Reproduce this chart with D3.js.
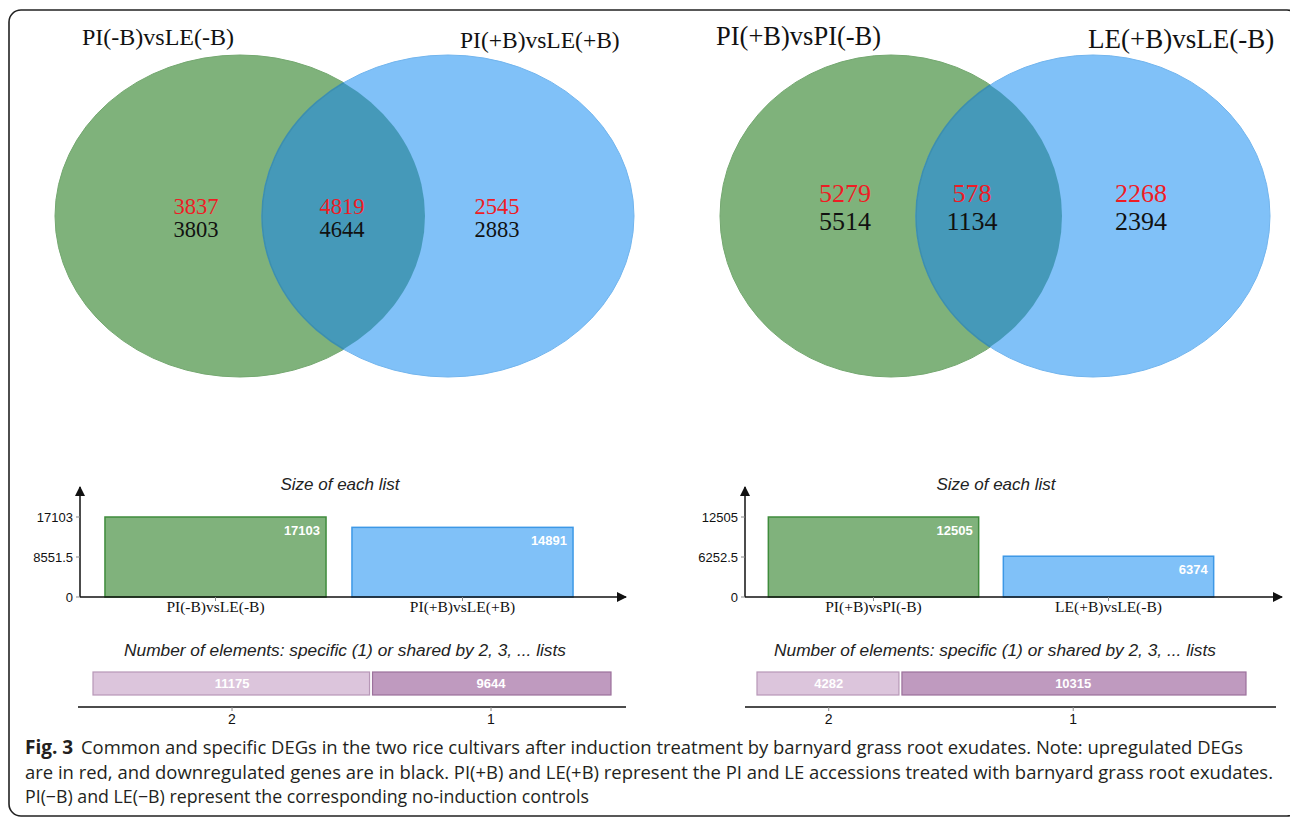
<!DOCTYPE html>
<html>
<head>
<meta charset="utf-8">
<script src="https://cdn.jsdelivr.net/npm/d3@7"></script>
<style>
  html, body { margin: 0; padding: 0; background: #fff; }
  svg { display: block; }
</style>
</head>
<body>
<div id="chart"></div>
<script>
/* =========================
   DATA
========================= */
const leftSets = ["PI(-B)vsLE(-B)", "PI(+B)vsLE(+B)"];
const leftUp = [3837, 4819, 2545];
const leftDown = [3803, 4644, 2883];

const rightSets = ["PI(+B)vsPI(-B)", "LE(+B)vsLE(-B)"];
const rightUp = [5279, 578, 2268];
const rightDown = [5514, 1134, 2394];

const leftListSizes = [17103, 14891];
const rightListSizes = [12505, 6374];

const sharedLabels = ["2", "1"];
const leftShared = [11175, 9644];
const rightShared = [4282, 10315];

const captionLines = [
  "Common and specific DEGs in the two rice cultivars after induction treatment by barnyard grass root exudates. Note: upregulated DEGs",
  "are in red, and downregulated genes are in black. PI(+B) and LE(+B) represent the PI and LE accessions treated with barnyard grass root exudates.",
  "PI(\u2212B) and LE(\u2212B) represent the corresponding no-induction controls"
];

/* =========================
   SVG
========================= */
const width = 1290, height = 818;
const svg = d3.select("#chart").append("svg")
  .attr("width", width)
  .attr("height", height);

const serif = "'Liberation Serif', 'Times New Roman', serif";
const sans = "'Liberation Sans', Arial, sans-serif";

svg.append("rect")
  .attr("x", 9).attr("y", 10)
  .attr("width", 1290).attr("height", 806)
  .attr("rx", 12)
  .attr("fill", "#fff")
  .attr("stroke", "#222")
  .attr("stroke-width", 1.6);

const defs = svg.append("defs");
defs.append("marker")
  .attr("id", "arrow")
  .attr("viewBox", "0 0 10 10")
  .attr("refX", 9).attr("refY", 5)
  .attr("markerWidth", 10).attr("markerHeight", 10)
  .attr("markerUnits", "userSpaceOnUse")
  .attr("orient", "auto")
  .append("path")
  .attr("d", "M0,0L10,5L0,10Z")
  .attr("fill", "#111");

/* =========================
   VENN
========================= */
function drawVenn(cfg) {
  const g = svg.append("g");
  const [a, b] = cfg.ellipses;

  defs.append("clipPath").attr("id", cfg.id)
    .append("ellipse")
    .attr("cx", a.cx).attr("cy", a.cy).attr("rx", a.rx).attr("ry", a.ry);

  g.append("ellipse")
    .attr("cx", a.cx).attr("cy", a.cy).attr("rx", a.rx).attr("ry", a.ry)
    .attr("fill", "#7fb27b").attr("stroke", "#74a870").attr("stroke-width", 1);
  g.append("ellipse")
    .attr("cx", b.cx).attr("cy", b.cy).attr("rx", b.rx).attr("ry", b.ry)
    .attr("fill", "#80c1f8").attr("stroke", "#72b5ee").attr("stroke-width", 1);
  g.append("ellipse")
    .attr("clip-path", `url(#${cfg.id})`)
    .attr("cx", b.cx).attr("cy", b.cy).attr("rx", b.rx).attr("ry", b.ry)
    .attr("fill", "#4599b9").attr("stroke", "#3d8fae").attr("stroke-width", 1.5);

  g.selectAll(".set-label")
    .data(cfg.sets)
    .enter().append("text")
    .attr("x", (d, i) => cfg.labelX[i])
    .attr("y", (d, i) => cfg.labelY[i])
    .attr("font-family", serif)
    .attr("font-size", (d, i) => cfg.labelSize[i])
    .attr("fill", "#111")
    .text(d => d);

  g.selectAll(".up")
    .data(cfg.up)
    .enter().append("text")
    .attr("x", (d, i) => cfg.numX[i])
    .attr("y", cfg.upY)
    .attr("text-anchor", "middle")
    .attr("font-family", serif)
    .attr("font-size", cfg.numSize)
    .attr("fill", "#ee1c25")
    .text(d => d);

  g.selectAll(".down")
    .data(cfg.down)
    .enter().append("text")
    .attr("x", (d, i) => cfg.numX[i])
    .attr("y", cfg.downY)
    .attr("text-anchor", "middle")
    .attr("font-family", serif)
    .attr("font-size", cfg.numSize)
    .attr("fill", "#111")
    .text(d => d);
}

drawVenn({
  id: "clipLeft",
  ellipses: [{ cx: 240, cy: 216, rx: 185, ry: 161 }, { cx: 448, cy: 216, rx: 186, ry: 161 }],
  sets: leftSets,
  labelX: [82, 460], labelY: [45, 48], labelSize: [24, 23.5],
  up: leftUp, down: leftDown,
  numX: [196, 342, 497], upY: 214, downY: 237, numSize: 22.5
});

drawVenn({
  id: "clipRight",
  ellipses: [{ cx: 891, cy: 216, rx: 171, ry: 161 }, { cx: 1093, cy: 216, rx: 177, ry: 161 }],
  sets: rightSets,
  labelX: [716, 1088], labelY: [45, 48], labelSize: [26.5, 27],
  up: rightUp, down: rightDown,
  numX: [845, 972, 1141], upY: 202, downY: 230, numSize: 26
});

/* =========================
   SIZE OF EACH LIST
========================= */
function drawSizes(cfg) {
  const g = svg.append("g");
  const max = d3.max(cfg.values);

  const x = d3.scaleBand()
    .domain(cfg.sets)
    .range(cfg.xRange)
    .paddingInner(0.105)
    .paddingOuter(0.0525);

  const y = d3.scaleLinear()
    .domain([0, max])
    .range([597, 517]);

  g.append("text")
    .attr("x", cfg.titleX).attr("y", 490)
    .attr("text-anchor", "middle")
    .attr("font-family", sans).attr("font-size", 17)
    .attr("font-style", "italic").attr("fill", "#222")
    .text("Size of each list");

  g.selectAll(".bar")
    .data(cfg.values)
    .enter().append("rect")
    .attr("x", (d, i) => x(cfg.sets[i]))
    .attr("y", d => y(d))
    .attr("width", x.bandwidth())
    .attr("height", d => y(0) - y(d))
    .attr("fill", (d, i) => i === 0 ? "#80b27c" : "#80c1f8")
    .attr("stroke", (d, i) => i === 0 ? "#3f8c3c" : "#3d98e6")
    .attr("stroke-width", 1.5);

  g.selectAll(".val")
    .data(cfg.values)
    .enter().append("text")
    .attr("x", (d, i) => x(cfg.sets[i]) + x.bandwidth() - 6)
    .attr("y", d => y(d) + 18)
    .attr("text-anchor", "end")
    .attr("font-family", sans).attr("font-size", 13)
    .attr("font-weight", "bold").attr("fill", "#fff")
    .text(d => d);

  // axes
  g.append("line")
    .attr("x1", cfg.axisX).attr("y1", 597)
    .attr("x2", cfg.axisX).attr("y2", 487)
    .attr("stroke", "#111").attr("stroke-width", 1.5)
    .attr("marker-end", "url(#arrow)");
  g.append("line")
    .attr("x1", cfg.axisX).attr("y1", 597)
    .attr("x2", cfg.arrowX).attr("y2", 597)
    .attr("stroke", "#111").attr("stroke-width", 1.5)
    .attr("marker-end", "url(#arrow)");

  const ticks = [0, max / 2, max];
  g.selectAll(".ytick")
    .data(ticks)
    .enter().append("line")
    .attr("x1", cfg.axisX - 4).attr("x2", cfg.axisX)
    .attr("y1", d => y(d)).attr("y2", d => y(d))
    .attr("stroke", "#888");
  g.selectAll(".ylab")
    .data(ticks)
    .enter().append("text")
    .attr("x", cfg.axisX - 7)
    .attr("y", d => y(d) + 4.5)
    .attr("text-anchor", "end")
    .attr("font-family", sans).attr("font-size", 13)
    .attr("fill", "#111")
    .text(d => d);

  g.selectAll(".xtick")
    .data(cfg.sets)
    .enter().append("line")
    .attr("x1", d => x(d) + x.bandwidth() / 2)
    .attr("x2", d => x(d) + x.bandwidth() / 2)
    .attr("y1", 597).attr("y2", 601)
    .attr("stroke", "#888");
  g.selectAll(".xlab")
    .data(cfg.sets)
    .enter().append("text")
    .attr("x", d => x(d) + x.bandwidth() / 2)
    .attr("y", 612)
    .attr("text-anchor", "middle")
    .attr("font-family", serif).attr("font-size", 15.5)
    .attr("fill", "#111")
    .text(d => d);
}

drawSizes({ sets: leftSets, values: leftListSizes, xRange: [92, 586], axisX: 80, arrowX: 626, titleX: 340 });
drawSizes({ sets: rightSets, values: rightListSizes, xRange: [756, 1226], axisX: 745, arrowX: 1282, titleX: 996 });

/* =========================
   SHARED ELEMENTS
========================= */
function drawShared(cfg) {
  const g = svg.append("g");
  const total = d3.sum(cfg.values);
  const x = d3.scaleLinear().domain([0, total]).range(cfg.barRange);
  const starts = cfg.values.map((d, i) => d3.sum(cfg.values.slice(0, i)));

  g.append("text")
    .attr("x", cfg.titleX).attr("y", 656)
    .attr("text-anchor", "middle")
    .attr("font-family", sans).attr("font-size", 17.3)
    .attr("font-style", "italic").attr("fill", "#222")
    .text("Number of elements: specific (1) or shared by 2, 3, ... lists");

  g.selectAll(".seg")
    .data(cfg.values)
    .enter().append("rect")
    .attr("x", (d, i) => x(starts[i]) + (i ? 1.5 : 0))
    .attr("y", 672)
    .attr("width", (d, i) => x(starts[i] + d) - x(starts[i]) - 1.5)
    .attr("height", 23)
    .attr("fill", (d, i) => i === 0 ? "#dcc5dc" : "#bf9abf")
    .attr("stroke", (d, i) => i === 0 ? "#b797b7" : "#9c719c")
    .attr("stroke-width", 1.2);

  g.selectAll(".segval")
    .data(cfg.values)
    .enter().append("text")
    .attr("x", (d, i) => x(starts[i] + d / 2))
    .attr("y", 688)
    .attr("text-anchor", "middle")
    .attr("font-family", sans).attr("font-size", 13)
    .attr("font-weight", "bold").attr("fill", "#fff")
    .text(d => d);

  g.append("line")
    .attr("x1", cfg.axisRange[0]).attr("x2", cfg.axisRange[1])
    .attr("y1", 707).attr("y2", 707)
    .attr("stroke", "#111").attr("stroke-width", 1.5);

  g.selectAll(".stick")
    .data(cfg.values)
    .enter().append("line")
    .attr("x1", (d, i) => x(starts[i] + d / 2))
    .attr("x2", (d, i) => x(starts[i] + d / 2))
    .attr("y1", 707).attr("y2", 711)
    .attr("stroke", "#888");

  g.selectAll(".slab")
    .data(cfg.labels)
    .enter().append("text")
    .attr("x", (d, i) => x(starts[i] + cfg.values[i] / 2))
    .attr("y", 724)
    .attr("text-anchor", "middle")
    .attr("font-family", sans).attr("font-size", 14)
    .attr("fill", "#111")
    .text(d => d);
}

drawShared({ values: leftShared, labels: sharedLabels, barRange: [93, 611], axisRange: [78, 626], titleX: 345 });
drawShared({ values: rightShared, labels: sharedLabels, barRange: [757, 1246], axisRange: [745, 1276], titleX: 995 });

/* =========================
   CAPTION
========================= */
const cap = svg.append("g")
  .attr("font-family", "'Open Sans', 'Noto Sans', sans-serif")
  .attr("font-size", 17.5)
  .attr("fill", "#231f20");

const first = cap.append("text").attr("x", 25).attr("y", 754);
first.append("tspan").attr("font-weight", "bold").attr("font-size", 19).text("Fig. 3");
first.append("tspan").attr("x", 81).attr("textLength", 1162)
  .attr("lengthAdjust", "spacingAndGlyphs").text(captionLines[0]);

cap.append("text").attr("x", 25).attr("y", 779)
  .attr("textLength", 1248).attr("lengthAdjust", "spacingAndGlyphs")
  .text(captionLines[1]);
cap.append("text").attr("x", 25).attr("y", 803)
  .attr("textLength", 564).attr("lengthAdjust", "spacingAndGlyphs")
  .text(captionLines[2]);
</script>
</body>
</html>
